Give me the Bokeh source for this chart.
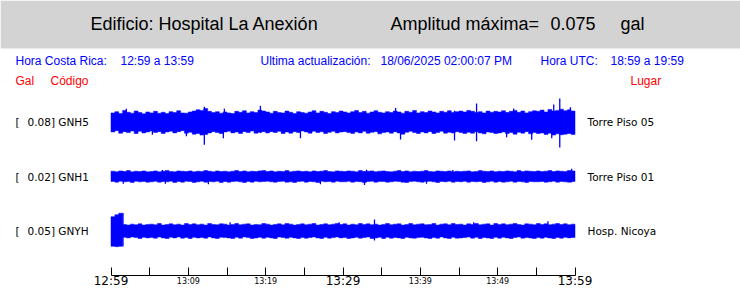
from bokeh.plotting import figure
from bokeh.models import Range1d, LinearAxis, FixedTicker, BoxAnnotation, ColumnDataSource
from bokeh.core.properties import value
from bokeh.embed import file_html
from bokeh.resources import INLINE

# ---------------- data ----------------
building = "Hospital La Anexión"
max_amp_gal = "0.075"
hora_cr = "12:59 a 13:59"
updated = "18/06/2025 02:00:07 PM"
hora_utc = "18:59 a 19:59"

codes = ["GNH5", "GNH1", "GNYH"]
peaks_gal = [0.08, 0.02, 0.05]
places = ["Torre Piso 05", "Torre Piso 01", "Hosp. Nicoya"]

tick_minutes = [0, 5, 10, 15, 20, 25, 30, 35, 40, 45, 50, 55, 60]
major_label_minutes = [0, 30, 60]
major_labels = ["12:59", "13:29", "13:59"]
minor_label_minutes = [10, 20, 40, 50]
minor_labels = ["13:09", "13:19", "13:39", "13:49"]

# envelope sample times (minutes after 12:59), one every half minute
sample_minutes = [0.25 + 0.5 * i for i in range(120)]

# envelopes in milligal (upper excursion, lower excursion)
gnh5_up = [30,34,28,38,32,29,36,31,27,33, 30,35,29,32,28,34,31,37,30,29,
           33,36,40,38,44,35,31,34,29,33, 30,28,35,32,37,30,34,31,39,36,
           33,29,35,31,30,36,32,28,34,31, 29,33,37,30,35,32,28,34,31,36,
           33,30,34,38,31,35,29,33,37,32, 30,34,31,36,33,29,35,32,38,30,
           34,31,36,33,30,35,32,37,31,34, 36,33,38,35,31,34,30,36,32,35,
           33,37,31,35,38,32,36,30,34,37, 35,39,33,41,36,38,42,37,40,36]
gnh5_dn = [31,27,35,30,33,28,36,29,34,31, 28,33,30,36,31,29,34,30,27,35,
           32,38,36,41,39,34,30,33,36,31, 29,34,31,36,30,33,28,35,32,30,
           34,30,33,29,36,31,35,30,33,28, 31,35,29,33,30,36,32,29,34,31,
           30,33,36,31,34,29,35,32,30,37, 33,31,35,30,34,38,32,29,33,36,
           31,34,30,36,33,29,35,32,34,30, 33,36,32,35,30,34,37,31,33,36,
           34,31,36,33,38,32,35,30,37,33, 36,34,39,35,41,37,40,38,36,39]
gnh1_up = [17,15,18,16,19,15,17,16,18,15, 16,18,15,17,19,16,15,18,17,16,
           18,15,17,16,19,17,15,18,16,17, 15,17,19,16,18,15,17,16,18,19,
           16,18,15,17,16,19,15,17,18,16, 17,15,18,16,17,19,16,15,18,17,
           16,18,17,15,19,16,17,18,15,17, 18,16,15,17,19,16,18,15,17,16,
           17,19,16,15,18,17,16,18,15,17, 16,17,18,15,16,19,17,16,18,15,
           17,16,18,17,15,19,16,18,17,16, 18,16,17,19,16,18,17,16,19,18]
gnh1_dn = [16,18,15,17,16,19,15,17,16,18, 17,15,18,16,17,15,19,16,18,15,
           16,19,17,15,18,16,17,15,19,16, 18,16,15,17,19,16,18,15,17,16,
           15,17,18,16,15,18,17,19,16,15, 18,16,17,19,15,17,16,18,15,17,
           17,15,18,16,17,19,16,15,18,16, 16,18,17,15,16,18,19,16,15,17,
           18,16,15,17,19,16,17,15,18,16, 17,15,18,16,17,16,19,17,15,18,
           16,18,17,15,18,16,17,19,16,17, 17,16,18,17,15,18,16,17,18,16]
gnyh_up = [46,52,57,21,19,22,20,23,19,21, 22,20,24,19,21,23,20,22,19,24,
           21,23,20,22,19,24,21,20,23,22, 19,21,24,20,22,23,19,21,20,24,
           22,19,21,23,20,24,22,19,21,23, 20,22,24,19,21,23,20,22,24,21,
           23,19,22,20,24,21,23,20,22,19, 21,24,20,22,23,19,21,24,20,22,
           23,20,21,24,19,22,23,20,24,21, 22,19,23,21,24,20,22,23,19,24,
           21,23,20,22,24,21,19,23,22,20, 24,21,23,20,22,24,21,23,20,22]
gnyh_dn = [49,50,49,20,22,19,21,24,20,22, 21,23,19,22,24,20,22,19,23,21,
           24,20,22,21,23,19,22,24,20,21, 22,24,20,23,19,21,24,22,20,23,
           20,22,24,19,21,23,20,22,24,21, 23,21,19,22,24,20,23,21,19,22,
           21,24,22,20,23,21,19,24,22,20, 24,20,23,21,22,24,20,22,23,21,
           20,22,24,21,23,19,22,24,20,23, 22,21,19,23,20,24,21,22,24,20,
           23,20,22,24,21,19,23,21,22,24, 21,23,20,22,24,21,23,20,22,21]

# isolated peaks: minute, upper excursion, lower excursion (milligal)
gnh5_peak_t = [1.98, 5.35, 9.75, 12.07, 14.53, 14.66, 19.32, 24.5, 36.8, 37.44,
               44.42, 47.27, 51.16, 52.07, 54.4, 56.99, 57.25, 58.03, 59.4]
gnh5_peak_up = [43, 30, 28, 50, 30, 43, 53, 32, 46, 30, 37, 60, 32, 44, 33, 35, 57, 76, 48]
gnh5_peak_dn = [30, 40, 45, 72, 51, 28, 34, 51, 30, 55, 58, 61, 48, 30, 56, 51, 33, 81, 35]
gnh1_peak_t = [1.59, 6.64, 7.03, 12.59, 27.08, 32.78, 33.04, 40.8, 44.2, 59.57]
gnh1_peak_up = [17, 21, 16, 17, 16, 17, 22, 16, 21, 25]
gnh1_peak_dn = [23, 16, 23, 25, 25, 27, 17, 23, 16, 18]
gnyh_peak_t = [1.55, 15.4, 29.5, 34.07, 46.9, 56.5]
gnyh_peak_up = [58, 28, 28, 37, 28, 31]
gnyh_peak_dn = [49, 22, 21, 30, 22, 21]

envelopes = [(gnh5_up, gnh5_dn), (gnh1_up, gnh1_dn), (gnyh_up, gnyh_dn)]
peaks = [(gnh5_peak_t, gnh5_peak_up, gnh5_peak_dn),
         (gnh1_peak_t, gnh1_peak_up, gnh1_peak_dn),
         (gnyh_peak_t, gnyh_peak_up, gnyh_peak_dn)]

# ---------------- layout ----------------
W, H = 740, 288
X0_PX, X60_PX = 110.5, 574.5
ppm = (X60_PX - X0_PX) / 60.0
row_centers = [121.75, 176.0, 230.5]
px_per_mgal = 0.3125
HALF = 0.25  # half of the sample spacing, minutes
BLUE = "#0000ff"

p = figure(width=W, height=H,
           x_range=Range1d(-X0_PX / ppm, (W - X0_PX) / ppm),
           y_range=Range1d(H, 0),
           x_axis_type=None, y_axis_type=None,
           toolbar_location=None, output_backend="svg", min_border=0)
p.outline_line_color = None
p.background_fill_color = "white"
p.border_fill_color = "white"
p.extra_x_ranges = {"px": Range1d(0, W)}

p.add_layout(BoxAnnotation(top=0, bottom=48, fill_color="#d3d3d3", fill_alpha=1.0,
                           line_color=None, level="underlay"))

for (up, dn), (pt, pu, pd), c in zip(envelopes, peaks, row_centers):
    # stepped envelope polygon: along the upper edge, then back along the lower edge
    xs, ys = [], []
    for t, u in zip(sample_minutes, up):
        xs += [t - HALF, t + HALF]
        ys += [c - u * px_per_mgal] * 2
    for t, d in zip(reversed(sample_minutes), reversed(dn)):
        xs += [t + HALF, t - HALF]
        ys += [c + d * px_per_mgal] * 2
    p.patch(xs, ys, fill_color=BLUE, line_color=BLUE, line_width=0.5)
    psrc = ColumnDataSource(dict(
        t=pt,
        y0=[c - u * px_per_mgal for u in pu],
        y1=[c + d * px_per_mgal for d in pd]))
    p.segment(x0="t", y0="y0", x1="t", y1="y1", source=psrc,
              line_color=BLUE, line_width=1.3)

def txt(xs, ys, texts, font, size, color):
    p.text(x=xs, y=ys, text=texts, x_range_name="px",
           text_font=value(font), text_font_size=size, text_color=color,
           text_baseline="alphabetic", text_align="left")

# header
txt([90, 390, 550, 620], [23] * 4,
    ["Edificio: " + building, "Amplitud máxima=", max_amp_gal, "gal"],
    "Liberation Sans", "18px", "black")
# info line
txt([15, 120, 260, 380, 540, 610], [60] * 6,
    ["Hora Costa Rica:", hora_cr, "Ultima actualización:", updated, "Hora UTC:", hora_utc],
    "Liberation Sans", "12px", BLUE)
txt([15, 50, 630], [80] * 3, ["Gal", "Código", "Lugar"], "Liberation Sans", "12px", "#ff0000")

# station labels
base = [c for c in row_centers]
txt([15] * 3, base, ["["] * 3, "DejaVu Sans", "10.5px", "black")
txt([27] * 3, base, ["%.2f] %s" % (g, k) for g, k in zip(peaks_gal, codes)],
    "DejaVu Sans", "10.5px", "black")
txt([587] * 3, base, places, "DejaVu Sans", "10.5px", "black")

# time axis
AXIS_Y = 274.5
ax = LinearAxis(fixed_location=AXIS_Y, bounds=(0, 60),
                ticker=FixedTicker(ticks=tick_minutes, minor_ticks=[]),
                major_label_overrides={m: (major_labels[major_label_minutes.index(m)]
                                           if m in major_label_minutes else "")
                                       for m in tick_minutes},
                major_tick_in=8, major_tick_out=0, minor_tick_in=0, minor_tick_out=0,
                major_label_standoff=-1,
                major_label_text_font="DejaVu Sans", major_label_text_font_size="12px",
                major_label_text_color="black",
                axis_line_color="black", major_tick_line_color="black")
p.add_layout(ax, "below")
ax2 = LinearAxis(fixed_location=AXIS_Y, bounds=(0, 60),
                 ticker=FixedTicker(ticks=minor_label_minutes, minor_ticks=[]),
                 major_label_overrides=dict(zip(minor_label_minutes, minor_labels)),
                 major_tick_in=0, major_tick_out=0, minor_tick_in=0, minor_tick_out=0,
                 major_label_standoff=2,
                 major_label_text_font="DejaVu Sans", major_label_text_font_size="8px",
                 major_label_text_color="black",
                 axis_line_color=None, major_tick_line_color=None)
p.add_layout(ax2, "below")

open("out.html", "w").write(file_html(p, INLINE))
